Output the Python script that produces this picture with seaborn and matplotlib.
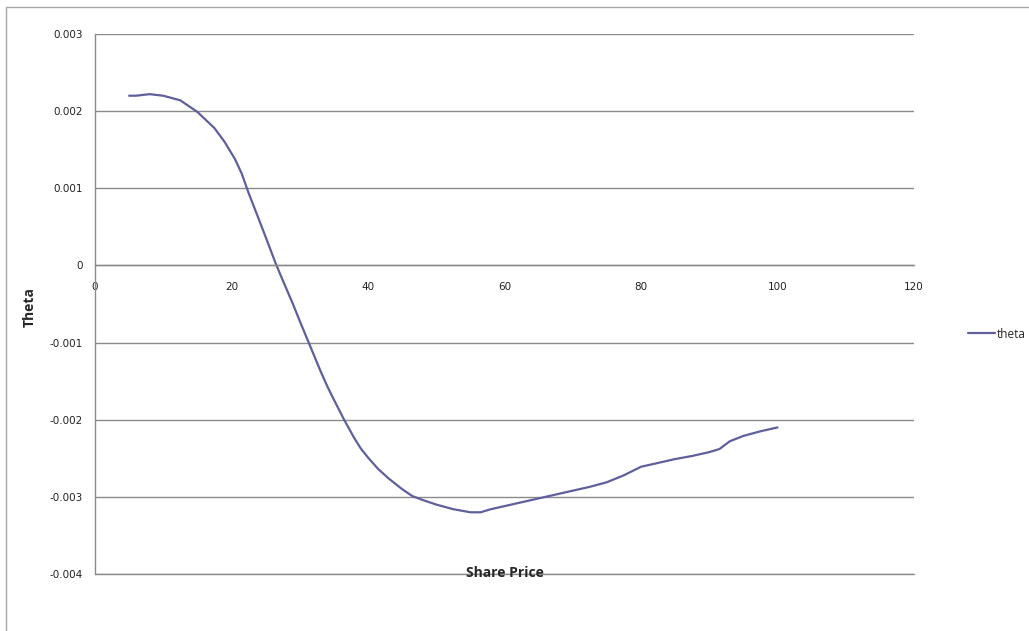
import numpy as np
import pandas as pd
import matplotlib
matplotlib.use('Agg')
import matplotlib.pyplot as plt
from matplotlib.patches import Rectangle
import seaborn as sns

# Valeurs
share_price = [5, 6, 8, 10, 12.5, 15, 17.5, 19, 20.5, 21.5, 22.5, 24, 25, 26.5,
               27.5, 29, 30, 31.5, 33, 34, 35, 36.5, 38, 39, 40, 41.5, 43, 44,
               45, 46.5, 48, 49, 50, 52.5, 55, 56.5, 58, 60, 62.5, 65, 67.5, 70,
               72.5, 75, 77.5, 80, 82.5, 85, 87.5, 90, 91.5, 93, 95, 97.5, 100]
theta = [0.00220, 0.00220, 0.00222, 0.00220, 0.00214, 0.00199, 0.00178, 0.00160,
         0.00138, 0.00119, 0.00094, 0.00060, 0.00037, 0.00002, -0.00019,
         -0.00050, -0.00072, -0.00104, -0.00136, -0.00156, -0.00174, -0.00200,
         -0.00224, -0.00238, -0.00249, -0.00264, -0.00276, -0.00283, -0.00290,
         -0.00299, -0.00304, -0.00307, -0.00310, -0.00316, -0.00320, -0.00320,
         -0.00316, -0.00312, -0.00307, -0.00302, -0.00297, -0.00292, -0.00287,
         -0.00281, -0.00272, -0.00261, -0.00256, -0.00251, -0.00247, -0.00242,
         -0.00238, -0.00228, -0.00221, -0.00215, -0.00210]
x_ticks = [0, 20, 40, 60, 80, 100, 120]
y_ticks = [-0.004, -0.003, -0.002, -0.001, 0, 0.001, 0.002, 0.003]
y_tick_labels = ['-0.004', '-0.003', '-0.002', '-0.001', '0', '0.001', '0.002', '0.003']

df = pd.DataFrame({'Share Price': share_price, 'theta': theta})

sns.set_style('white')
plt.rcParams['font.family'] = ['DejaVu Sans']

W, H = 1029, 631
fig = plt.figure(figsize=(W / 100, H / 100), dpi=100)
ax = fig.add_axes([95 / W, 1 - 574 / H, (914 - 95) / W, (574 - 34) / H])

line_color = '#5f5f9c'
grid_color = '#8a8a8a'

sns.lineplot(data=df, x='Share Price', y='theta', ax=ax, color=line_color,
             linewidth=1.6, label='theta', legend=False)

ax.set_xlim(0, 120)
ax.set_ylim(-0.004, 0.003)
ax.set_xticks(x_ticks)
ax.set_xticklabels([str(t) for t in x_ticks])
ax.set_yticks(y_ticks)
ax.set_yticklabels(y_tick_labels)

ax.yaxis.grid(True, color=grid_color, linewidth=1)
ax.xaxis.grid(False)
ax.set_axisbelow(True)
# ligne du bas (sinon coupée par la zone de tracé)
ax.axhline(y_ticks[0], color=grid_color, linewidth=1, clip_on=False, zorder=0.5)

ax.spines['top'].set_visible(False)
ax.spines['right'].set_visible(False)
ax.spines['left'].set_color(grid_color)
ax.spines['left'].set_linewidth(1)
ax.spines['bottom'].set_position(('data', 0))
ax.spines['bottom'].set_color(grid_color)
ax.spines['bottom'].set_linewidth(1)

ax.tick_params(axis='x', length=0, pad=12, labelsize=7.5, labelcolor='#222222')
ax.tick_params(axis='y', length=0, pad=9, labelsize=7.5, labelcolor='#222222')

ax.set_xlabel('')
ax.set_ylabel('')

# Titres des axes
fig.text(505 / W, 1 - 573 / H, 'Share Price', ha='center', va='center',
         fontsize=10, fontweight='bold', family=['Open Sans', 'DejaVu Sans'])
fig.text(30 / W, 1 - 307 / H, 'Theta', ha='center', va='center', rotation=90,
         fontsize=10, fontweight='bold', family=['Open Sans', 'DejaVu Sans'])

# Légende
handles, labels = ax.get_legend_handles_labels()
fig.legend(handles, labels, loc='center left', bbox_to_anchor=(962 / W, 1 - 334 / H),
           frameon=False, handlelength=2.3, handletextpad=0.15, borderpad=0,
           prop={'family': 'Open Sans', 'size': 8.5})

# Cadre extérieur
fig.patches.append(Rectangle((6 / W, -0.05), 1.1, 1 - 7 / H + 0.05,
                             transform=fig.transFigure, fill=False,
                             edgecolor='#a6a6a6', linewidth=1))

fig.savefig('out.png', dpi=100)
